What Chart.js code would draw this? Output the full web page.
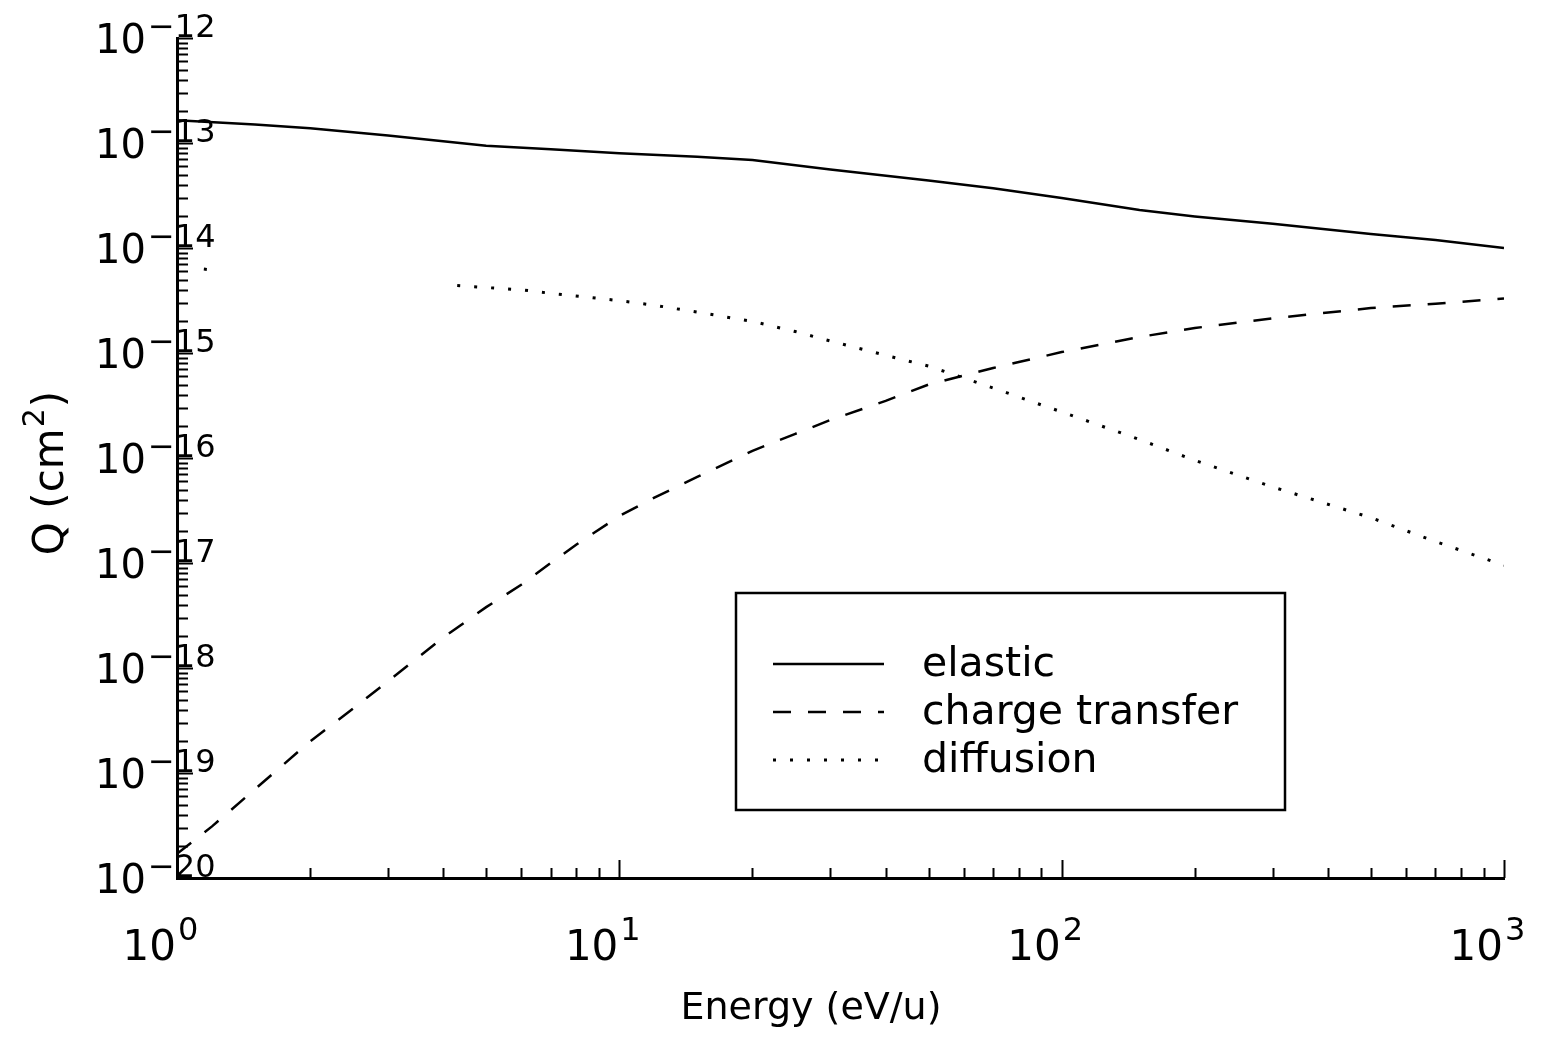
<!DOCTYPE html>
<html>
<head>
<meta charset="utf-8">
<script src="https://cdn.jsdelivr.net/npm/chart.js@4.4.1/dist/chart.umd.min.js"></script>
<style>
  html, body { margin: 0; padding: 0; background: #fff; }
  canvas { display: block; }
</style>
</head>
<body>
<canvas id="chart" width="1550" height="1039"></canvas>
<script>
// energies (eV/u) and cross sections Q (cm^2)
var elasticE = [1, 1.5, 2, 3, 5, 7, 10, 15, 20, 30, 50, 70, 100, 150, 200, 300, 500, 700, 1000];
var elasticQ = [1.65e-13, 1.5e-13, 1.38e-13, 1.18e-13, 9.4e-14, 8.7e-14, 8.0e-14, 7.4e-14, 6.9e-14, 5.6e-14,
                4.4e-14, 3.7e-14, 3.0e-14, 2.3e-14, 2.0e-14, 1.7e-14, 1.36e-14, 1.19e-14, 1.0e-14];

var transferE = [1, 1.2, 1.5, 2, 2.5, 3, 4, 5, 6, 7, 8, 10, 12, 15, 20, 25, 30, 40, 50, 60, 70, 80,
                 100, 150, 200, 300, 500, 700, 1000];
var transferQ = [1.7e-20, 3.1e-20, 7e-20, 2.0e-19, 4.1e-19, 7.5e-19, 1.95e-18, 3.8e-18, 6.2e-18, 1.0e-17,
                 1.5e-17, 2.8e-17, 4.2e-17, 6.6e-17, 1.17e-16, 1.7e-16, 2.3e-16, 3.5e-16, 5.0e-16, 6.1e-16,
                 7.2e-16, 8.2e-16, 1.02e-15, 1.42e-15, 1.73e-15, 2.14e-15, 2.68e-15, 2.95e-15, 3.3e-15];

// the dotted curve is broken between ~1.3 and ~4 eV/u in the figure
var diffusionE = [1.15, 1.25, 2, 4.3, 5, 6, 7, 8.5, 10, 12, 15, 20, 25, 30, 40, 50, 60, 75, 90, 100,
                  150, 200, 300, 500, 700, 1000];
var diffusionQ = [6.3e-15, 6.05e-15, null, 4.4e-15, 4.2e-15, 4.0e-15, 3.7e-15, 3.4e-15, 3.15e-15, 2.85e-15,
                  2.45e-15, 2.0e-15, 1.6e-15, 1.3e-15, 9.5e-16, 7.5e-16, 5.8e-16, 4.2e-16, 3.2e-16, 2.75e-16,
                  1.5e-16, 9.5e-17, 5.3e-17, 2.7e-17, 1.6e-17, 9.5e-18];

var seriesNames = ['elastic', 'charge transfer', 'diffusion'];
var xDecades = [0, 1, 2, 3];
var yDecades = [-20, -19, -18, -17, -16, -15, -14, -13, -12];

var FONT = '"DejaVu Sans", "Liberation Sans", sans-serif';

function pairs(xs, ys) {
  return xs.map(function (x, i) { return { x: x, y: ys[i] }; });
}

function drawPow(ctx, xRight, baseline, exp, baseSize, supSize, rise) {
  ctx.font = baseSize + 'px ' + FONT;
  ctx.textAlign = 'right';
  ctx.fillText('10', xRight, baseline);
  ctx.font = supSize + 'px ' + FONT;
  ctx.textAlign = 'left';
  ctx.fillText(exp < 0 ? '\u2212' + (-exp) : String(exp), xRight + 2, baseline - rise);
}

var axisDecor = {
  id: 'axisDecor',
  afterDraw: function (chart) {
    var ctx = chart.ctx, xs = chart.scales.x, ys = chart.scales.y, a = chart.chartArea;
    ctx.save();
    ctx.strokeStyle = '#000';
    ctx.fillStyle = '#000';
    ctx.lineWidth = 2;
    ctx.beginPath();
    // y ticks, pointing into the plot
    for (var i = 0; i < yDecades.length; i++) {
      var p = yDecades[i];
      for (var m = 1; m < 10; m++) {
        if (p === yDecades[yDecades.length - 1] && m > 1) break;
        var y = Math.round(ys.getPixelForValue(m * Math.pow(10, p))) + 0.5;
        ctx.moveTo(a.left, y);
        ctx.lineTo(a.left + (m === 1 ? 16 : 11), y);
      }
    }
    // x ticks
    for (var j = 0; j < xDecades.length; j++) {
      var q = xDecades[j];
      for (var n = 1; n < 10; n++) {
        if (q === xDecades[xDecades.length - 1] && n > 1) break;
        var x = Math.round(xs.getPixelForValue(n * Math.pow(10, q))) + 0.5;
        ctx.moveTo(x, a.bottom);
        ctx.lineTo(x, a.bottom - (n === 1 ? 18 : 10));
      }
    }
    ctx.stroke();

    ctx.textBaseline = 'alphabetic';
    yDecades.forEach(function (p) {
      var y = ys.getPixelForValue(Math.pow(10, p));
      drawPow(ctx, 146, y + 15, p, 40, 32, 16);
    });
    xDecades.forEach(function (q) {
      var x = xs.getPixelForValue(Math.pow(10, q));
      drawPow(ctx, x - 1, 960, q, 42, 32, 20);
    });

    // x title
    ctx.font = '38px ' + FONT;
    ctx.textAlign = 'center';
    ctx.fillText('Energy (eV/u)', 811, 1019);

    // y title, rotated, with superscript
    ctx.save();
    ctx.translate(63, 473);
    ctx.rotate(-Math.PI / 2);
    var mainFont = '42px ' + FONT, supFont = '30px ' + FONT;
    ctx.font = mainFont;
    var w1 = ctx.measureText('Q (cm').width, w3 = ctx.measureText(')').width;
    ctx.font = supFont;
    var w2 = ctx.measureText('2').width + 2;
    var start = -(w1 + w2 + w3) / 2;
    ctx.textAlign = 'left';
    ctx.font = mainFont;
    ctx.fillText('Q (cm', start, 0);
    ctx.font = supFont;
    ctx.fillText('2', start + w1 + 1, -19);
    ctx.font = mainFont;
    ctx.fillText(')', start + w1 + w2, 0);
    ctx.restore();
    ctx.restore();
  }
};

var boxLegend = {
  id: 'boxLegend',
  afterDraw: function (chart) {
    var ctx = chart.ctx;
    ctx.save();
    ctx.strokeStyle = '#000';
    ctx.fillStyle = '#000';
    ctx.lineWidth = 2.5;
    ctx.strokeRect(736, 593, 549, 217);
    var rows = [664, 712, 760];
    chart.data.datasets.forEach(function (ds, i) {
      ctx.lineWidth = ds.borderWidth;
      ctx.setLineDash(ds.borderDash || []);
      ctx.beginPath();
      ctx.moveTo(773, rows[i]);
      ctx.lineTo(884, rows[i]);
      ctx.stroke();
      ctx.setLineDash([]);
      ctx.font = '41px ' + FONT;
      ctx.textAlign = 'left';
      ctx.textBaseline = 'middle';
      ctx.fillText(ds.label, 922, rows[i] + 1);
    });
    ctx.restore();
  }
};

new Chart(document.getElementById('chart'), {
  type: 'line',
  data: {
    datasets: [
      { label: seriesNames[0], data: pairs(elasticE, elasticQ), borderColor: '#000', borderWidth: 2.5, borderDash: [] },
      { label: seriesNames[1], data: pairs(transferE, transferQ), borderColor: '#000', borderWidth: 2.5, borderDash: [18, 17] },
      { label: seriesNames[2], data: pairs(diffusionE, diffusionQ), borderColor: '#000', borderWidth: 3, borderDash: [3, 14] }
    ]
  },
  options: {
    responsive: false,
    animation: false,
    devicePixelRatio: 1,
    spanGaps: false,
    elements: { point: { radius: 0 }, line: { tension: 0, fill: false } },
    layout: { padding: { left: 169, right: 46, top: 38, bottom: 153 } },
    plugins: { legend: { display: false }, tooltip: { enabled: false } },
    scales: {
      x: {
        type: 'logarithmic', min: 1, max: 1000,
        grid: { display: false },
        ticks: { display: false },
        border: { display: true, color: '#000', width: 3 }
      },
      y: {
        type: 'logarithmic', min: 1e-20, max: 1e-12,
        grid: { display: false },
        ticks: { display: false },
        border: { display: true, color: '#000', width: 3 }
      }
    }
  },
  plugins: [axisDecor, boxLegend]
});
</script>
</body>
</html>
